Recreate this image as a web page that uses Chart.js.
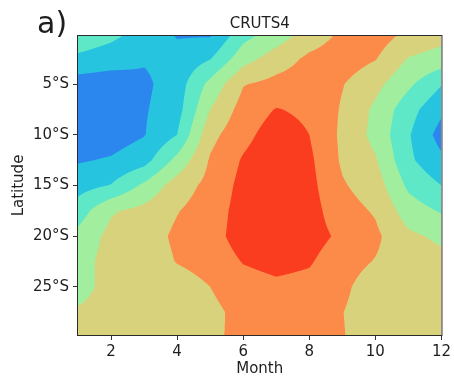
<!DOCTYPE html>
<html>
<head>
<meta charset="utf-8">
<script src="https://cdn.jsdelivr.net/npm/chart.js@4.4.0/dist/chart.umd.min.js"></script>
<style>
  html, body { margin: 0; padding: 0; background: #fff; }
</style>
</head>
<body>
<canvas id="chart" width="454" height="380"></canvas>
<script>
// latitude rows (degrees south) and month columns of the gridded field
const latitudes = [0.25, 2.5, 5, 7.5, 10, 12.5, 15, 17.5, 20, 22.5, 25, 27.5, 29.75];
const months = [1, 2, 3, 4, 5, 6, 7, 8, 9, 10, 11, 12];

// one column per month, values top (0.25°S) to bottom (29.75°S)
const jan = [3.6, 2.8, 1.5, 1.3, 1.4, 1.9, 2.6, 3.5, 4.3, 4.6, 4.7, 5.1, 5.4];
const feb = [3.2, 2.5, 1.4, 1.3, 1.5, 2.1, 3.05, 4.9, 5.3, 5.4, 5.3, 5.3, 5.3];
const mar = [2.6, 2.1, 1.8, 1.9, 1.95, 2.6, 4.2, 5.3, 5.5, 5.4, 5.3, 5.2, 5.2];
const apr = [1.95, 2.3, 2.5, 2.6, 3.0, 4.3, 5.5, 5.95, 6.2, 6.05, 5.5, 5.3, 5.3];
const may = [1.95, 2.95, 4.3, 5.0, 5.7, 6.1, 6.3, 6.5, 6.6, 6.4, 6.0, 5.75, 5.85];
const jun = [3.7, 4.6, 5.95, 6.4, 6.7, 7.1, 7.3, 7.4, 7.45, 7.05, 6.6, 6.3, 6.2];
const jul = [4.5, 5.5, 6.3, 7.05, 7.5, 7.7, 7.8, 7.8, 7.7, 7.3, 6.8, 6.6, 6.5];
const aug = [5.5, 6.2, 6.5, 6.8, 7.0, 7.2, 7.3, 7.4, 7.4, 7.1, 6.7, 6.5, 6.5];
const sep = [6.2, 6.5, 6.05, 5.9, 5.8, 5.85, 6.1, 6.4, 6.8, 6.4, 6.2, 6.02, 6.05];
const oct = [6.5, 6.05, 5.3, 4.8, 4.7, 5.1, 5.5, 5.9, 6.2, 5.95, 5.5, 5.5, 5.5];
const nov = [5.7, 4.95, 4.2, 3.4, 3.1, 3.2, 3.8, 4.5, 5.2, 5.5, 5.5, 5.5, 5.6];
const dec = [5.3, 4.6, 3.05, 2.2, 1.6, 2.2, 3.0, 3.9, 4.8, 5.3, 5.1, 5.1, 5.4];
const columns = [jan, feb, mar, apr, may, jun, jul, aug, sep, oct, nov, dec];

// contour levels and fill colours
const levels = [1, 2, 3, 4, 5, 6, 7];
const levelColors = ['#1f5fd8', '#2b87ee', '#27c4df', '#5fe8c8', '#a0ee9e', '#d9d27c', '#fc8a48', '#fa3c1f'];

const monthTicks = [2, 4, 6, 8, 10, 12];
const latTicks = [5, 10, 15, 20, 25];

const title = 'CRUTS4';
const panelLabel = 'a)';
const textColor = '#1e1e1e';
const fontFamily = '"DejaVu Sans", Verdana, sans-serif';

function hexToRgb(hex) {
    const n = parseInt(hex.slice(1), 16);
    return [(n >> 16) & 255, (n >> 8) & 255, n & 255];
}

function valueAt(m, lat) {
    let fm = m - months[0];
    let i = Math.min(Math.max(Math.floor(fm), 0), months.length - 2);
    const tx = Math.min(Math.max(fm - i, 0), 1);
    let j = 0;
    while (j < latitudes.length - 2 && lat > latitudes[j + 1]) j++;
    const ty = Math.min(Math.max((lat - latitudes[j]) / (latitudes[j + 1] - latitudes[j]), 0), 1);
    const a = columns[i][j] + (columns[i + 1][j] - columns[i][j]) * tx;
    const b = columns[i][j + 1] + (columns[i + 1][j + 1] - columns[i][j + 1]) * tx;
    return a + (b - a) * ty;
}

function levelIndex(v) {
    let k = 0;
    while (k < levels.length && v >= levels[k]) k++;
    return k;
}

const contourFill = {
    id: 'contourFill',
    beforeDatasetsDraw(chart) {
        const { ctx, chartArea: area, scales: { x, y } } = chart;
        const left = Math.round(area.left), top = Math.round(area.top);
        const w = Math.round(area.right) - left, h = Math.round(area.bottom) - top;
        const img = ctx.createImageData(w, h);
        const rgb = levelColors.map(hexToRgb);
        const ss = 3;
        for (let py = 0; py < h; py++) {
            const lats = [];
            for (let sy = 0; sy < ss; sy++) lats.push(-y.getValueForPixel(top + py + (sy + 0.5) / ss));
            for (let px = 0; px < w; px++) {
                let r = 0, g = 0, b = 0;
                for (let sx = 0; sx < ss; sx++) {
                    const m = x.getValueForPixel(left + px + (sx + 0.5) / ss);
                    for (const lat of lats) {
                        const c = rgb[levelIndex(valueAt(m, lat))];
                        r += c[0]; g += c[1]; b += c[2];
                    }
                }
                const k = (py * w + px) * 4;
                img.data[k] = r / (ss * ss);
                img.data[k + 1] = g / (ss * ss);
                img.data[k + 2] = b / (ss * ss);
                img.data[k + 3] = 255;
            }
        }
        ctx.putImageData(img, left, top);
    }
};

const frameAndText = {
    id: 'frameAndText',
    afterDraw(chart) {
        const { ctx, chartArea: area } = chart;
        ctx.save();
        ctx.strokeStyle = '#2b2b2b';
        ctx.lineWidth = 1;
        ctx.strokeRect(area.left - 0.5, area.top - 0.5, area.right - area.left + 1, area.bottom - area.top + 1);
        ctx.fillStyle = textColor;
        ctx.textBaseline = 'alphabetic';
        ctx.textAlign = 'center';
        ctx.font = `15px ${fontFamily}`;
        ctx.fillText(title, (area.left + area.right) / 2, 28);
        ctx.textAlign = 'left';
        ctx.font = `30px ${fontFamily}`;
        ctx.fillText(panelLabel, 37, 33);
        ctx.restore();
    }
};

const tickFont = { family: fontFamily, size: 15 };

new Chart(document.getElementById('chart').getContext('2d'), {
    type: 'scatter',
    data: { datasets: [] },
    plugins: [contourFill, frameAndText],
    options: {
        responsive: false,
        devicePixelRatio: 1,
        animation: false,
        layout: { padding: { top: 36, right: 11, left: 0, bottom: 0 } },
        plugins: {
            legend: { display: false },
            tooltip: { enabled: false },
        },
        scales: {
            x: {
                type: 'linear',
                min: 1,
                max: 12,
                afterBuildTicks: (scale) => { scale.ticks = monthTicks.map(v => ({ value: v })); },
                afterFit: (scale) => { scale.height = 45; },
                ticks: { font: tickFont, color: textColor, padding: 3, maxRotation: 0, autoSkip: false },
                grid: { drawOnChartArea: false, tickLength: 5, color: '#333' },
                border: { display: false },
                title: { display: true, text: 'Month', font: tickFont, color: textColor, padding: { top: 0, bottom: 2 } },
            },
            y: {
                type: 'linear',
                min: -29.75,
                max: -0.25,
                afterBuildTicks: (scale) => { scale.ticks = latTicks.map(v => ({ value: -v })); },
                afterFit: (scale) => { scale.width = 78; },
                ticks: { font: tickFont, color: textColor, padding: 4, callback: (v) => `${-v}°S` },
                grid: { drawOnChartArea: false, tickLength: 5, color: '#333' },
                border: { display: false },
                title: { display: true, text: 'Latitude', font: tickFont, color: textColor, padding: { top: 10, bottom: 0 } },
            },
        },
    },
});
</script>
</body>
</html>
